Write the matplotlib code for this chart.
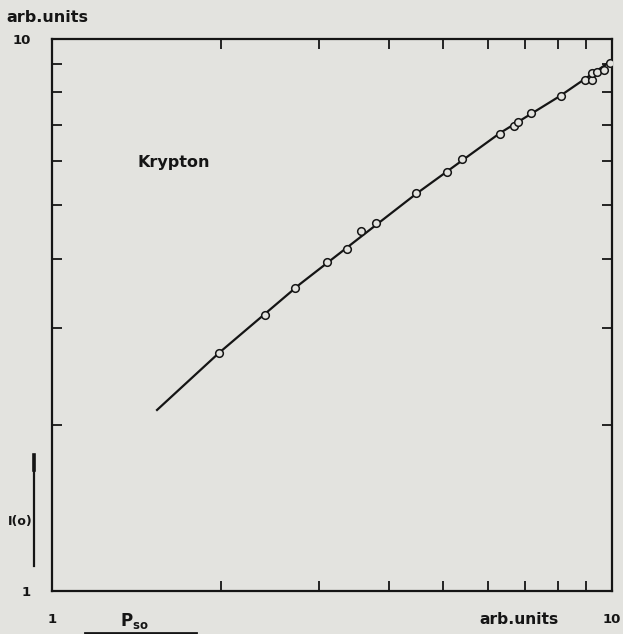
import numpy as np
import matplotlib
matplotlib.use("Agg")
import matplotlib.pyplot as plt
from matplotlib.ticker import FixedLocator, NullFormatter

# measured points, Krypton (arb. units both axes)
p_so = [1.987, 2.401, 2.717, 3.098, 3.364, 3.562, 3.790, 4.467, 5.075, 5.397,
        6.310, 6.683, 6.794, 7.167, 8.106, 8.93, 9.21, 9.21, 9.39, 9.67, 9.92]
i_o = [2.700, 3.162, 3.539, 3.945, 4.165, 4.489, 4.642, 5.261, 5.742, 6.063,
       6.728, 6.957, 7.074, 7.345, 7.883, 8.43, 8.43, 8.68, 8.72, 8.79, 9.05]

# drawn curve through the points
curve_x = [1.540, 1.987, 2.773, 4.467, 6.310, 8.073, 9.96]
curve_y = [2.128, 2.700, 3.599, 5.240, 6.756, 7.883, 9.125]

minor = [2, 3, 4, 5, 6, 7, 8, 9]
bg = '#e3e3df'
ink = '#151515'

fig = plt.figure(figsize=(6.23, 6.34), dpi=100, facecolor=bg)
ax = fig.add_axes([0.0835, 0.0678, 0.8989, 0.8707], facecolor=bg)

ax.plot(curve_x, curve_y, color=ink, lw=1.6, zorder=2)
ax.plot(p_so, i_o, 'o', ms=5.5, mfc=bg, mec=ink, mew=1.1, zorder=3)

ax.set_xscale('log')
ax.set_yscale('log')
ax.set_xlim(1, 10)
ax.set_ylim(1, 10)

ax.xaxis.set_major_locator(FixedLocator([1, 10]))
ax.yaxis.set_major_locator(FixedLocator([1, 10]))
ax.set_xticklabels(['1', '10'])
ax.set_yticklabels(['1', '10'])
ax.xaxis.set_minor_locator(FixedLocator(minor))
ax.yaxis.set_minor_locator(FixedLocator(minor))
ax.xaxis.set_minor_formatter(NullFormatter())
ax.yaxis.set_minor_formatter(NullFormatter())
ax.tick_params(which='major', length=0, labelsize=9.5, pad=16, colors=ink)
ax.tick_params(axis='y', which='major', pad=15)
ax.tick_params(which='minor', direction='in', length=7, width=1.3,
               top=True, right=True, color=ink)
for lab in ax.get_xticklabels() + ax.get_yticklabels():
    lab.set_fontweight('bold')

for s in ax.spines.values():
    s.set_linewidth(1.6)
    s.set_color(ink)

fig.text(0.01, 0.966, 'arb.units', fontsize=11.5, fontweight='bold', color=ink)
fig.text(0.77, 0.016, 'arb.units', fontsize=11.2, fontweight='bold', color=ink)
ax.text(0.152, 0.768, 'Krypton', transform=ax.transAxes, fontsize=11.5,
        fontweight='bold', color=ink)
fig.text(0.193, 0.013, r'P$_{\mathbf{so}}$', fontsize=12, fontweight='bold', color=ink)
fig.text(0.012, 0.172, 'I(o)', fontsize=9, fontweight='bold', color=ink)

# small scale bars drawn beside the labels
fig.add_artist(plt.Line2D([0.0546, 0.0546], [0.107, 0.282], color=ink, lw=1.6))
fig.add_artist(plt.Line2D([0.0546, 0.0546], [0.258, 0.282], color=ink, lw=2.6))
fig.add_artist(plt.Line2D([0.137, 0.315], [0.0015, 0.0015], color=ink, lw=2))

fig.savefig('out.png', dpi=100, facecolor=bg)
